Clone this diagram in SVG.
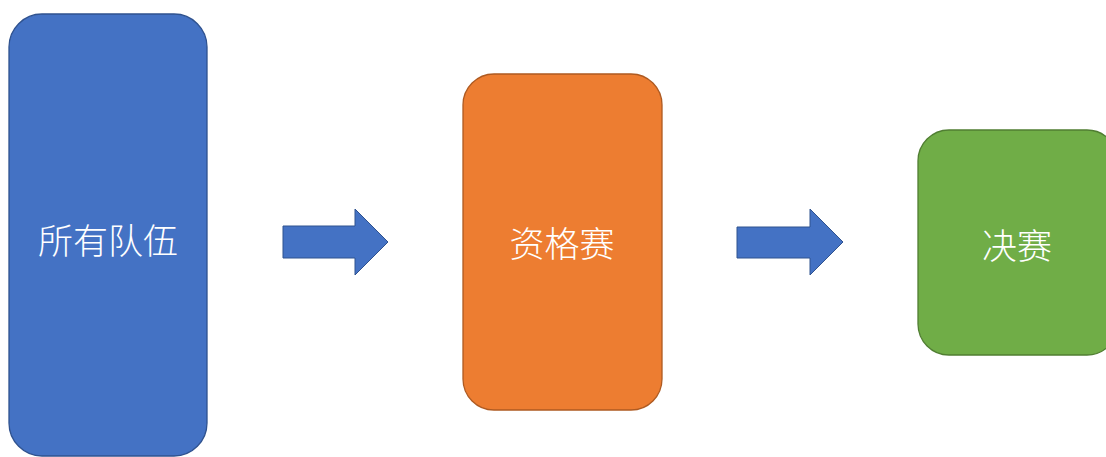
<svg xmlns="http://www.w3.org/2000/svg" width="1106" height="457" viewBox="0 0 1106 457">
<style>
.lbl{font-family:"Noto Sans CJK SC","Noto Sans",sans-serif;font-size:35px;font-weight:300;fill:#ffffff;text-anchor:middle;dominant-baseline:central}
.arr{fill:#4472C4;stroke:#2F528F;stroke-width:1}
</style>
<rect width="1106" height="457" fill="#ffffff"/>
<g id="node-all">
<rect x="9" y="14" width="198" height="442" rx="33" fill="#4472C4" stroke="#2F528F" stroke-width="1.3"/>
<text class="lbl" x="108" y="238">所有队伍</text>
</g>
<g id="node-qual">
<rect x="463" y="74" width="199" height="336" rx="31" fill="#ED7D31" stroke="#AE5A21" stroke-width="1.3"/>
<text class="lbl" x="562" y="241">资格赛</text>
</g>
<g id="node-final">
<rect x="918" y="130" width="200" height="225" rx="31" fill="#70AD47" stroke="#507E32" stroke-width="1.3"/>
<text class="lbl" x="1017" y="243">决赛</text>
</g>
<g id="connectors">
<polygon class="arr" points="283,226 355,226 355,209 388,242 355,275 355,258 283,258"/>
<polygon class="arr" points="737,227 810,227 810,209 843,242 810,275 810,258 737,258"/>
</g>
</svg>
